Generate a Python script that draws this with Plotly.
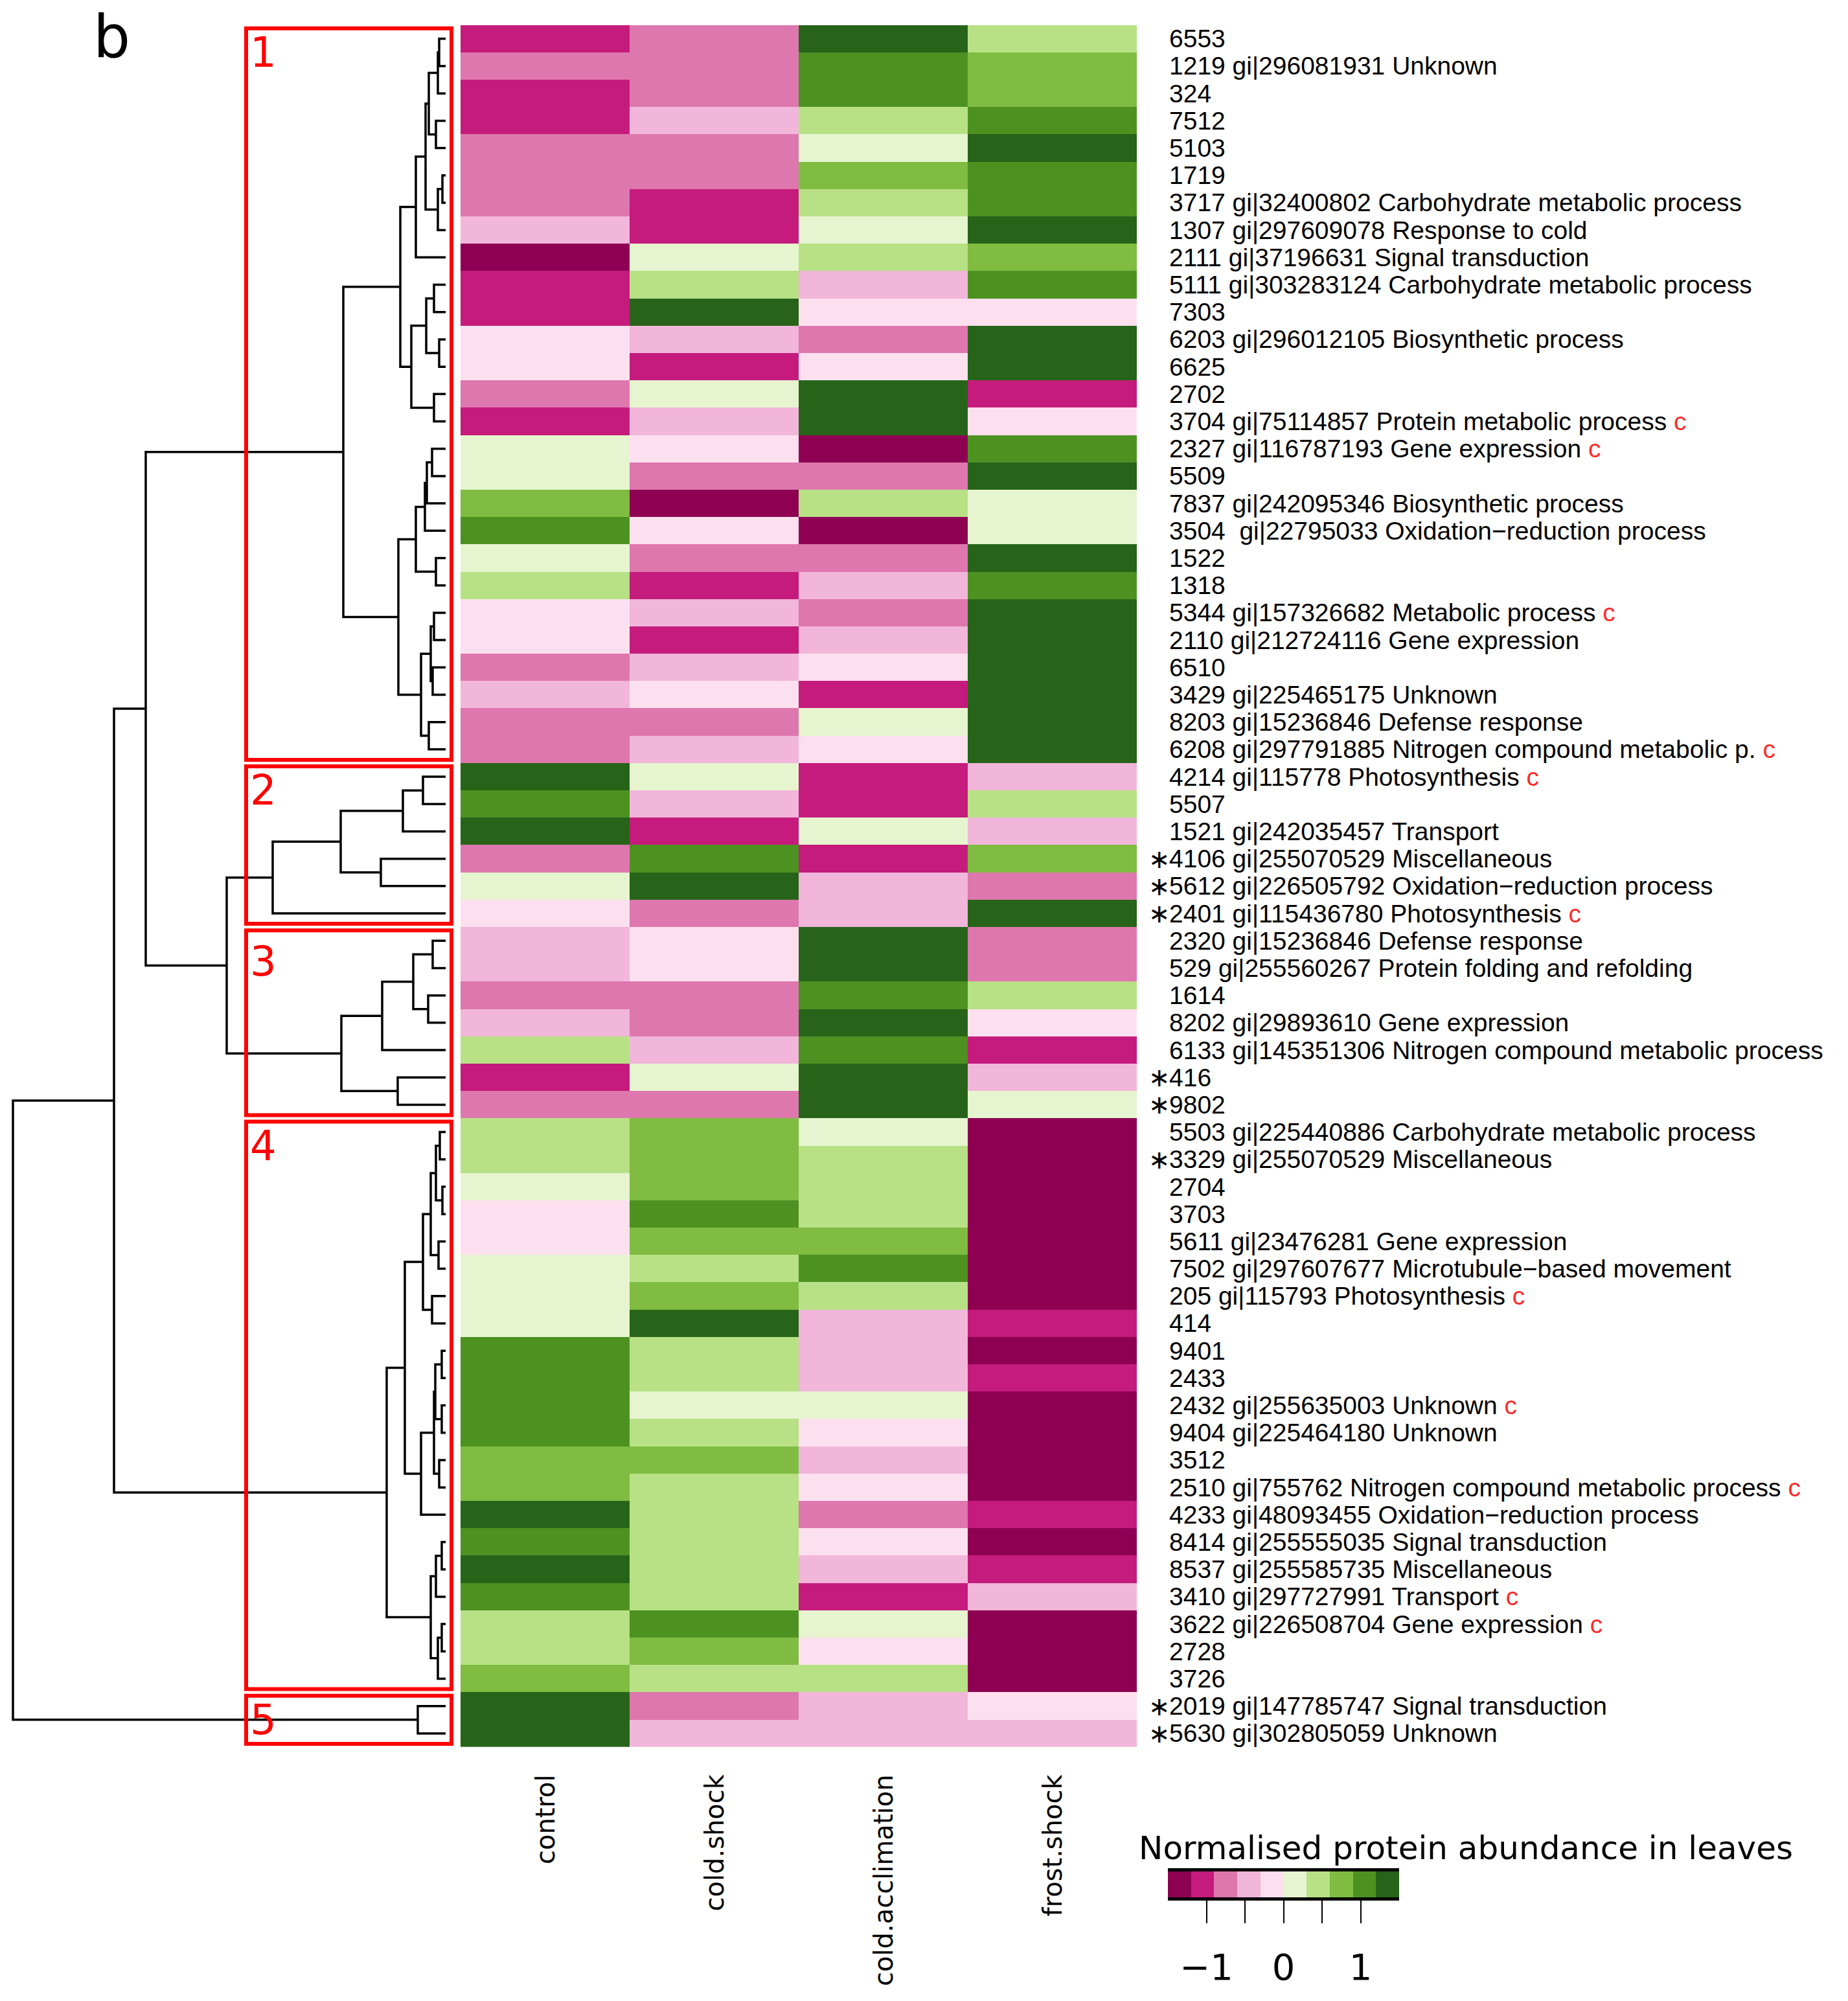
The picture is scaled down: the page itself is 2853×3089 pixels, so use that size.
import plotly.graph_objects as go

W, H = 2853, 3089

# ---------------- data ----------------
conditions = ["control", "cold.shock", "cold.acclimation", "frost.shock"]

protein_ids = [
    "6553", "1219", "324", "7512", "5103", "1719", "3717", "1307", "2111", "5111",
    "7303", "6203", "6625", "2702", "3704", "2327", "5509", "7837", "3504", "1522",
    "1318", "5344", "2110", "6510", "3429", "8203", "6208", "4214", "5507", "1521",
    "4106", "5612", "2401", "2320", "529", "1614", "8202", "6133", "416", "9802",
    "5503", "3329", "2704", "3703", "5611", "7502", "205", "414", "9401", "2433",
    "2432", "9404", "3512", "2510", "4233", "8414", "8537", "3410", "3622", "2728",
    "3726", "2019", "5630",
]

protein_desc = [
    "", "gi|296081931 Unknown", "", "", "", "",
    "gi|32400802 Carbohydrate metabolic process", "gi|297609078 Response to cold",
    "gi|37196631 Signal transduction", "gi|303283124 Carbohydrate metabolic process",
    "", "gi|296012105 Biosynthetic process", "", "",
    "gi|75114857 Protein metabolic process", "gi|116787193 Gene expression", "",
    "gi|242095346 Biosynthetic process", "\u00a0gi|22795033 Oxidation\u2212reduction process",
    "", "", "gi|157326682 Metabolic process", "gi|212724116 Gene expression", "",
    "gi|225465175 Unknown", "gi|15236846 Defense response",
    "gi|297791885 Nitrogen compound metabolic p.", "gi|115778 Photosynthesis", "",
    "gi|242035457 Transport", "gi|255070529 Miscellaneous",
    "gi|226505792 Oxidation\u2212reduction process", "gi|115436780 Photosynthesis",
    "gi|15236846 Defense response", "gi|255560267 Protein folding and refolding", "",
    "gi|29893610 Gene expression", "gi|145351306 Nitrogen compound metabolic process",
    "", "", "gi|225440886 Carbohydrate metabolic process", "gi|255070529 Miscellaneous",
    "", "", "gi|23476281 Gene expression", "gi|297607677 Microtubule\u2212based movement",
    "gi|115793 Photosynthesis", "", "", "", "gi|255635003 Unknown", "gi|225464180 Unknown",
    "", "gi|755762 Nitrogen compound metabolic process",
    "gi|48093455 Oxidation\u2212reduction process", "gi|255555035 Signal transduction",
    "gi|255585735 Miscellaneous", "gi|297727991 Transport", "gi|226508704 Gene expression",
    "", "", "gi|147785747 Signal transduction", "gi|302805059 Unknown",
]

starred_rows = [31, 32, 33, 39, 40, 42, 62, 63]
c_marked_rows = [15, 16, 22, 27, 28, 33, 47, 51, 54, 58, 59]

control = [
    -1.05, -0.75, -1.05, -1.05, -0.75, -0.75, -0.75, -0.45, -1.35, -1.05,
    -1.05, -0.15, -0.15, -0.75, -1.05, 0.15, 0.15, 0.75, 1.05, 0.15,
    0.45, -0.15, -0.15, -0.75, -0.45, -0.75, -0.75, 1.35, 1.05, 1.35,
    -0.75, 0.15, -0.15, -0.45, -0.45, -0.75, -0.45, 0.45, -1.05, -0.75,
    0.45, 0.45, 0.15, -0.15, -0.15, 0.15, 0.15, 0.15, 1.05, 1.05,
    1.05, 1.05, 0.75, 0.75, 1.35, 1.05, 1.35, 1.05, 0.45, 0.45,
    0.75, 1.35, 1.35,
]
cold_shock = [
    -0.75, -0.75, -0.75, -0.45, -0.75, -0.75, -1.05, -1.05, 0.15, 0.45,
    1.35, -0.45, -1.05, 0.15, -0.45, -0.15, -0.75, -1.35, -0.15, -0.75,
    -1.05, -0.45, -1.05, -0.45, -0.15, -0.75, -0.45, 0.15, -0.45, -1.05,
    1.05, 1.35, -0.75, -0.15, -0.15, -0.75, -0.75, -0.45, 0.15, -0.75,
    0.75, 0.75, 0.75, 1.05, 0.75, 0.45, 0.75, 1.35, 0.45, 0.45,
    0.15, 0.45, 0.75, 0.45, 0.45, 0.45, 0.45, 0.45, 1.05, 0.75,
    0.45, -0.75, -0.45,
]
cold_acclimation = [
    1.35, 1.05, 1.05, 0.45, 0.15, 0.75, 0.45, 0.15, 0.45, -0.45,
    -0.15, -0.75, -0.15, 1.35, 1.35, -1.35, -0.75, 0.45, -1.35, -0.75,
    -0.45, -0.75, -0.45, -0.15, -1.05, 0.15, -0.15, -1.05, -1.05, 0.15,
    -1.05, -0.45, -0.45, 1.35, 1.35, 1.05, 1.35, 1.05, 1.35, 1.35,
    0.15, 0.45, 0.45, 0.45, 0.75, 1.05, 0.45, -0.45, -0.45, -0.45,
    0.15, -0.15, -0.45, -0.15, -0.75, -0.15, -0.45, -1.05, 0.15, -0.15,
    0.45, -0.45, -0.45,
]
frost_shock = [
    0.45, 0.75, 0.75, 1.05, 1.35, 1.05, 1.05, 1.35, 0.75, 1.05,
    -0.15, 1.35, 1.35, -1.05, -0.15, 1.05, 1.35, 0.15, 0.15, 1.35,
    1.05, 1.35, 1.35, 1.35, 1.35, 1.35, 1.35, -0.45, 0.45, -0.45,
    0.75, -0.75, 1.35, -0.75, -0.75, 0.45, -0.15, -1.05, -0.45, 0.15,
    -1.35, -1.35, -1.35, -1.35, -1.35, -1.35, -1.35, -1.05, -1.35, -1.05,
    -1.35, -1.35, -1.35, -1.35, -1.05, -1.35, -1.05, -0.45, -1.35, -1.35,
    -1.35, -0.15, -0.45,
]

# hierarchical clustering of rows: (left, right, height); negative = leaf row (1-based)
merges = [
    (-1, -2, 10), (1, -3, 12), (-4, -5, 15), (2, 3, 26), (-6, -7, 5),
    (5, -8, 12), (4, 6, 31), (7, -9, 46), (-10, -11, 18), (-12, -13, 10),
    (9, 10, 30), (-14, -15, 18), (11, 12, 53), (8, 13, 70), (-16, -17, 21),
    (15, -18, 29), (16, -19, 32), (-20, -21, 15), (17, 18, 46), (-22, -23, 18),
    (-24, -25, 20), (20, 21, 23), (-26, -27, 26), (22, 23, 38), (19, 24, 73),
    (14, 25, 158),
    (-28, -29, 35), (27, -30, 66), (-31, -32, 100), (28, 29, 162), (30, -33, 267),
    (-34, -35, 20), (-36, -37, 27), (32, 33, 50), (34, -38, 98), (-39, -40, 74),
    (35, 36, 161),
    (31, 37, 338), (26, 38, 463),
    (-41, -42, 9), (-43, -44, 5), (40, 41, 15), (-45, -46, 11), (42, 43, 23),
    (-47, -48, 21), (44, 45, 35), (-49, -50, 6), (-51, -52, 6), (47, 48, 16),
    (-53, -54, 10), (49, 50, 18), (51, -55, 38), (46, 52, 63), (-56, -57, 6),
    (54, -58, 15), (-59, -60, 6), (56, -61, 12), (55, 57, 23), (53, 58, 91),
    (39, 59, 512), (-62, -63, 43), (60, 61, 668),
]

cluster_rows = [(1, 27), (28, 33), (34, 40), (41, 61), (62, 63)]
cluster_names = ["1", "2", "3", "4", "5"]

palette = ["#8E0152", "#C51B7D", "#DE77AE", "#F1B6DA", "#FDE0EF",
           "#E6F5D0", "#B8E186", "#7FBC41", "#4D9221", "#276419"]
legend_breaks = [-1.5, -1.2, -0.9, -0.6, -0.3, 0.0, 0.3, 0.6, 0.9, 1.2, 1.5]
legend_ticks = [-1, -0.5, 0, 0.5, 1]
legend_ticktext = ["\u22121", "", "0", "", "1"]

# ---------------- helpers ----------------
def px(x):
    return x / W

def py(y):
    return 1 - y / H

zmin, zmax = legend_breaks[0], legend_breaks[-1]
colorscale = []
for i, c in enumerate(palette):
    colorscale.append([(legend_breaks[i] - zmin) / (zmax - zmin), c])
    colorscale.append([(legend_breaks[i + 1] - zmin) / (zmax - zmin), c])

n = len(protein_ids)
rows = list(range(n))
z = [[control[i], cold_shock[i], cold_acclimation[i], frost_shock[i]] for i in rows]

fig = go.Figure()

fig.add_trace(go.Heatmap(
    z=z, x=list(range(len(conditions))), y=rows,
    colorscale=colorscale, zmin=zmin, zmax=zmax, showscale=False,
    xaxis="x", yaxis="y", hoverinfo="skip",
))

# dendrogram
pos, hts = {}, {}
def node(ref):
    if ref < 0:
        return -ref - 1, 0.0
    return pos[ref], hts[ref]

dx, dy = [], []
for k, (a, b, h) in enumerate(merges, start=1):
    ya, ha = node(a)
    yb, hb = node(b)
    dx += [ha, h, h, hb, None]
    dy += [ya, ya, yb, yb, None]
    pos[k] = (ya + yb) / 2
    hts[k] = h

fig.add_trace(go.Scatter(
    x=dx, y=dy, mode="lines", line=dict(color="black", width=3.5),
    xaxis="x3", yaxis="y", hoverinfo="skip", showlegend=False,
))

# legend colour bar
legend_centers = [(legend_breaks[i] + legend_breaks[i + 1]) / 2 for i in range(len(palette))]
fig.add_trace(go.Heatmap(
    z=[legend_centers], x=legend_centers, y=[0],
    colorscale=colorscale, zmin=zmin, zmax=zmax, showscale=False,
    xaxis="x2", yaxis="y2", hoverinfo="skip",
))

annotations = []
shapes = []

# row labels
for i in rows:
    txt = protein_ids[i]
    if protein_desc[i]:
        txt += " " + protein_desc[i]
    if (i + 1) in c_marked_rows:
        txt += " <span style='color:#FF2A2A'>c</span>"
    annotations.append(dict(
        x=px(1803), y=i, xref="paper", yref="y", text=txt, showarrow=False,
        xanchor="left", yanchor="middle",
        font=dict(family="Liberation Sans, Arial", size=39, color="black"),
    ))
    if (i + 1) in starred_rows:
        annotations.append(dict(
            x=px(1809), y=i, xref="paper", yref="y", text="\u2217", showarrow=False,
            xanchor="right", yanchor="middle",
            font=dict(family="DejaVu Sans", size=40, color="black"),
        ))

# column labels
for j, name in enumerate(conditions):
    annotations.append(dict(
        x=j, y=py(2737), xref="x", yref="paper", text=name, showarrow=False,
        xanchor="center", yanchor="top", textangle=-90,
        font=dict(family="DejaVu Sans", size=40, color="black"),
    ))

# cluster boxes and numbers
label_offsets = [1.0, 1.0, 1.25, 1.0, 1.0]
for (r0, r1), name, off in zip(cluster_rows, cluster_names, label_offsets):
    shapes.append(dict(
        type="rect", xref="paper", yref="y",
        x0=px(380), x1=px(697), y0=r0 - 1.5 + 0.12, y1=r1 - 0.5 - 0.12,
        line=dict(color="#FF0000", width=6), fillcolor="rgba(0,0,0,0)", layer="above",
    ))
    annotations.append(dict(
        x=px(384), y=r0 - 1.5 + off, xref="paper", yref="y", text=name, showarrow=False,
        xanchor="left", yanchor="middle",
        font=dict(family="DejaVu Sans", size=64, color="#FF0000"),
    ))

# panel letter
annotations.append(dict(
    x=px(172), y=py(56), xref="paper", yref="paper", text="b", showarrow=False,
    xanchor="center", yanchor="middle",
    font=dict(family="DejaVu Sans", size=90, color="black"),
))

# legend title
annotations.append(dict(
    x=px(1756), y=py(2853), xref="paper", yref="paper",
    text="Normalised protein abundance in leaves", showarrow=False,
    xanchor="left", yanchor="middle",
    font=dict(family="DejaVu Sans", size=50, color="black"),
))

fig.update_layout(
    width=W, height=H, margin=dict(l=0, r=0, t=0, b=0, pad=0),
    paper_bgcolor="white", plot_bgcolor="white", template="none",
    showlegend=False,
    xaxis=dict(domain=[px(711), px(1755)], range=[-0.5, 3.5], visible=False, anchor="y"),
    yaxis=dict(domain=[py(2697), py(38.7)], range=[n - 0.5, -0.5], visible=False, anchor="x"),
    xaxis3=dict(domain=[px(8), px(696)], range=[680, -8], visible=False, anchor="y"),
    xaxis2=dict(
        domain=[px(1803), px(2160)], range=[zmin, zmax], anchor="y2",
        showline=True, mirror=True, linecolor="black", linewidth=5,
        ticks="outside", ticklen=35, tickwidth=2, tickcolor="black",
        tickvals=legend_ticks, ticktext=legend_ticktext, ticklabelstandoff=20,
        tickfont=dict(family="DejaVu Sans", size=56, color="black"),
        showgrid=False, zeroline=False,
    ),
    yaxis2=dict(domain=[py(2929), py(2889)], range=[-0.5, 0.5], visible=False, anchor="x2"),
    annotations=annotations, shapes=shapes,
)

fig.write_html(
    "out.html",
    config={"displayModeBar": False},
    post_script="document.body.style.margin='0';document.body.style.overflow='hidden';",
)
